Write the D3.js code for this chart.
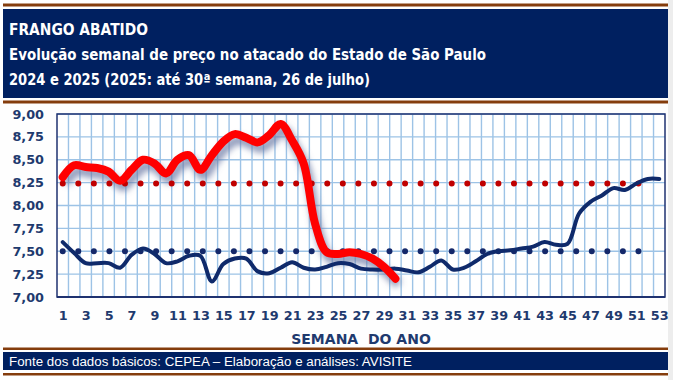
<!DOCTYPE html>
<html><head><meta charset="utf-8">
<script src="https://cdn.jsdelivr.net/npm/d3@7"></script>
<style>html,body{margin:0;padding:0;background:#fff;}svg{display:block;}</style>
</head><body>
<script>
// ---- DATA ----
const titleLines = ["FRANGO ABATIDO",
  "Evolução semanal de preço no atacado do Estado de São Paulo",
  "2024 e 2025 (2025: até 30ª semana, 26 de julho)"];
const footerText = "Fonte dos dados básicos: CEPEA – Elaboração e análises: AVISITE";
const xTitle = "SEMANA  DO ANO";
const xTickLabels = [1,3,5,7,9,11,13,15,17,19,21,23,25,27,29,31,33,35,37,39,41,43,45,47,49,51,53];
const yTickLabels = [7.00,7.25,7.50,7.75,8.00,8.25,8.50,8.75,9.00];
const price2025 = [8.31,8.44,8.42,8.41,8.37,8.27,8.39,8.50,8.46,8.35,8.50,8.55,8.39,8.55,8.70,
  8.78,8.74,8.69,8.77,8.89,8.71,8.46,7.80,7.49,7.47,7.49,7.47,7.42,7.33,7.20];
const price2024 = [7.60,7.48,7.37,7.37,7.37,7.32,7.46,7.53,7.47,7.37,7.39,7.45,7.45,7.17,7.36,
  7.42,7.42,7.28,7.26,7.32,7.38,7.32,7.30,7.33,7.37,7.36,7.31,7.30,7.30,7.31,7.29,7.27,7.33,
  7.40,7.30,7.32,7.39,7.47,7.50,7.51,7.53,7.55,7.60,7.57,7.58,7.91,8.04,8.11,8.19,8.17,8.24,8.29,8.29];
const avg2025 = 8.24, avg2024 = 7.50;
const avgSpan = [1, 51.3];

// ---- LAYOUT ----
const W = 673, H = 380;
const svg = d3.select("body").append("svg").attr("width", W).attr("height", H);
const NAVY = "#002060", BROWN = "#843c0c", TXT = "#1f3a6e";
const titleWidths = [139, 477, 361];

const defs = svg.append("defs");
const f = defs.append("filter").attr("id","blur").attr("x","-10%").attr("y","-20%").attr("width","120%").attr("height","140%");
f.append("feGaussianBlur").attr("stdDeviation", 3);

svg.append("rect").attr("x",0).attr("y",0).attr("width",W).attr("height",H).attr("fill","#fefefe");
svg.append("rect").attr("x",668).attr("y",0).attr("width",5).attr("height",H).attr("fill","#ededed");

// header
svg.append("rect").attr("x",3).attr("y",3.5).attr("width",665).attr("height",3).attr("fill",BROWN);
svg.append("rect").attr("x",3).attr("y",9).attr("width",665).attr("height",89).attr("fill",NAVY);
svg.append("rect").attr("x",3).attr("y",100.5).attr("width",665).attr("height",3).attr("fill",BROWN);
svg.selectAll("text.title").data(titleLines).join("text").attr("class","title")
  .attr("x",9).attr("y",(d,i)=>35+i*25)
  .attr("fill","#fff")
  .attr("font-family","'DejaVu Sans', Tahoma, sans-serif")
  .attr("font-weight","bold").attr("font-size","15px")
  .attr("textLength",(d,i)=>titleWidths[i]).attr("lengthAdjust","spacingAndGlyphs").text(d=>d);

// footer
svg.append("rect").attr("x",3).attr("y",347.5).attr("width",665).attr("height",2.5).attr("fill",BROWN);
svg.append("rect").attr("x",3).attr("y",352).attr("width",665).attr("height",18).attr("fill",NAVY);
svg.append("rect").attr("x",3).attr("y",373).attr("width",665).attr("height",2.5).attr("fill",BROWN);
svg.append("text").attr("x",9).attr("y",365.5).attr("fill","#fff")
  .attr("font-family","'Liberation Sans', Arial, sans-serif").attr("font-size","12.5px")
  .attr("textLength",403).attr("lengthAdjust","spacingAndGlyphs").text(footerText);

// plot
const L = 57, R = 665, T = 114, B = 297;
const x = d3.scaleLinear().domain([0.5, 53.5]).range([L, R]);
const y = d3.scaleLinear().domain([7, 9]).range([B, T]);

svg.append("rect").attr("x",L).attr("y",T).attr("width",R-L).attr("height",B-T).attr("fill","#fff");
const g = svg.append("g");
g.selectAll("line.vg").data(price2024.slice(0,52)).join("line").attr("class","vg")
  .attr("x1",(d,i)=>x(i+1.5)).attr("x2",(d,i)=>x(i+1.5)).attr("y1",T).attr("y2",B)
  .attr("stroke","#9dc3e6").attr("stroke-width",1.4);
g.selectAll("line.hg").data(yTickLabels).join("line").attr("class","hg")
  .attr("x1",L).attr("x2",R).attr("y1",d=>y(d)).attr("y2",d=>y(d))
  .attr("stroke","#9dc3e6").attr("stroke-width",1.4);

svg.append("rect").attr("x",L).attr("y",T).attr("width",R-L).attr("height",B-T)
  .attr("fill","none").attr("stroke","#1f3270").attr("stroke-width",1.5);
svg.append("line").attr("x1",L).attr("x2",R).attr("y1",B).attr("y2",B).attr("stroke","#1f3270").attr("stroke-width",2);

const fmt = d3.formatLocale({decimal:",",thousands:".",grouping:[3],currency:["R$",""]}).format(".2f");
const yAxis = d3.axisLeft(y).tickValues(yTickLabels).tickFormat(fmt).tickSize(0).tickPadding(13);
const ya = svg.append("g").attr("transform",`translate(${L},0)`).call(yAxis);
ya.select(".domain").remove();
ya.selectAll("text").attr("font-family","'DejaVu Sans', Verdana, sans-serif").attr("font-weight","bold")
  .attr("font-size","12.8px").attr("fill",TXT);

const xAxis = d3.axisBottom(x).tickValues(xTickLabels).tickFormat(d=>d).tickSize(0).tickPadding(14);
const xa = svg.append("g").attr("transform",`translate(0,${B})`).call(xAxis);
xa.select(".domain").remove();
xa.selectAll("text").attr("font-family","'DejaVu Sans', Verdana, sans-serif").attr("font-weight","bold")
  .attr("font-size","12.8px").attr("fill",TXT);

svg.append("text").attr("x",(L+R)/2).attr("y",344).attr("text-anchor","middle")
  .attr("font-family","'DejaVu Sans', Verdana, sans-serif").attr("font-weight","bold")
  .attr("font-size","14px").attr("fill",TXT).attr("xml:space","preserve").text(xTitle);

const line = d3.line().x((d,i)=>x(i+1)).y(d=>y(d)).curve(d3.curveCatmullRom.alpha(0.5));
const avgLine = d3.line().x(d=>x(d[0])).y(d=>y(d[1]));

svg.append("path").attr("d",line(price2025)).attr("transform","translate(3,6)")
  .attr("fill","none").attr("stroke","#6b7aa6").attr("stroke-opacity",0.75)
  .attr("stroke-width",9).attr("filter","url(#blur)");

svg.append("path").attr("d",avgLine(avgSpan.map(w=>[w,avg2025])))
  .attr("fill","none").attr("stroke","#c00000").attr("stroke-width",6)
  .attr("stroke-linecap","round").attr("stroke-dasharray","0 15.56");
svg.append("path").attr("d",avgLine(avgSpan.map(w=>[w,avg2024])))
  .attr("fill","none").attr("stroke","#14286a").attr("stroke-width",6)
  .attr("stroke-linecap","round").attr("stroke-dasharray","0 15.56");

svg.append("path").attr("d",line(price2024)).attr("fill","none").attr("stroke","#0f2a6b")
  .attr("stroke-width",4).attr("stroke-linejoin","round").attr("stroke-linecap","round");
svg.append("path").attr("d",line(price2025)).attr("fill","none").attr("stroke","#ff0000")
  .attr("stroke-width",8).attr("stroke-linejoin","round").attr("stroke-linecap","round");
</script>
</body></html>
